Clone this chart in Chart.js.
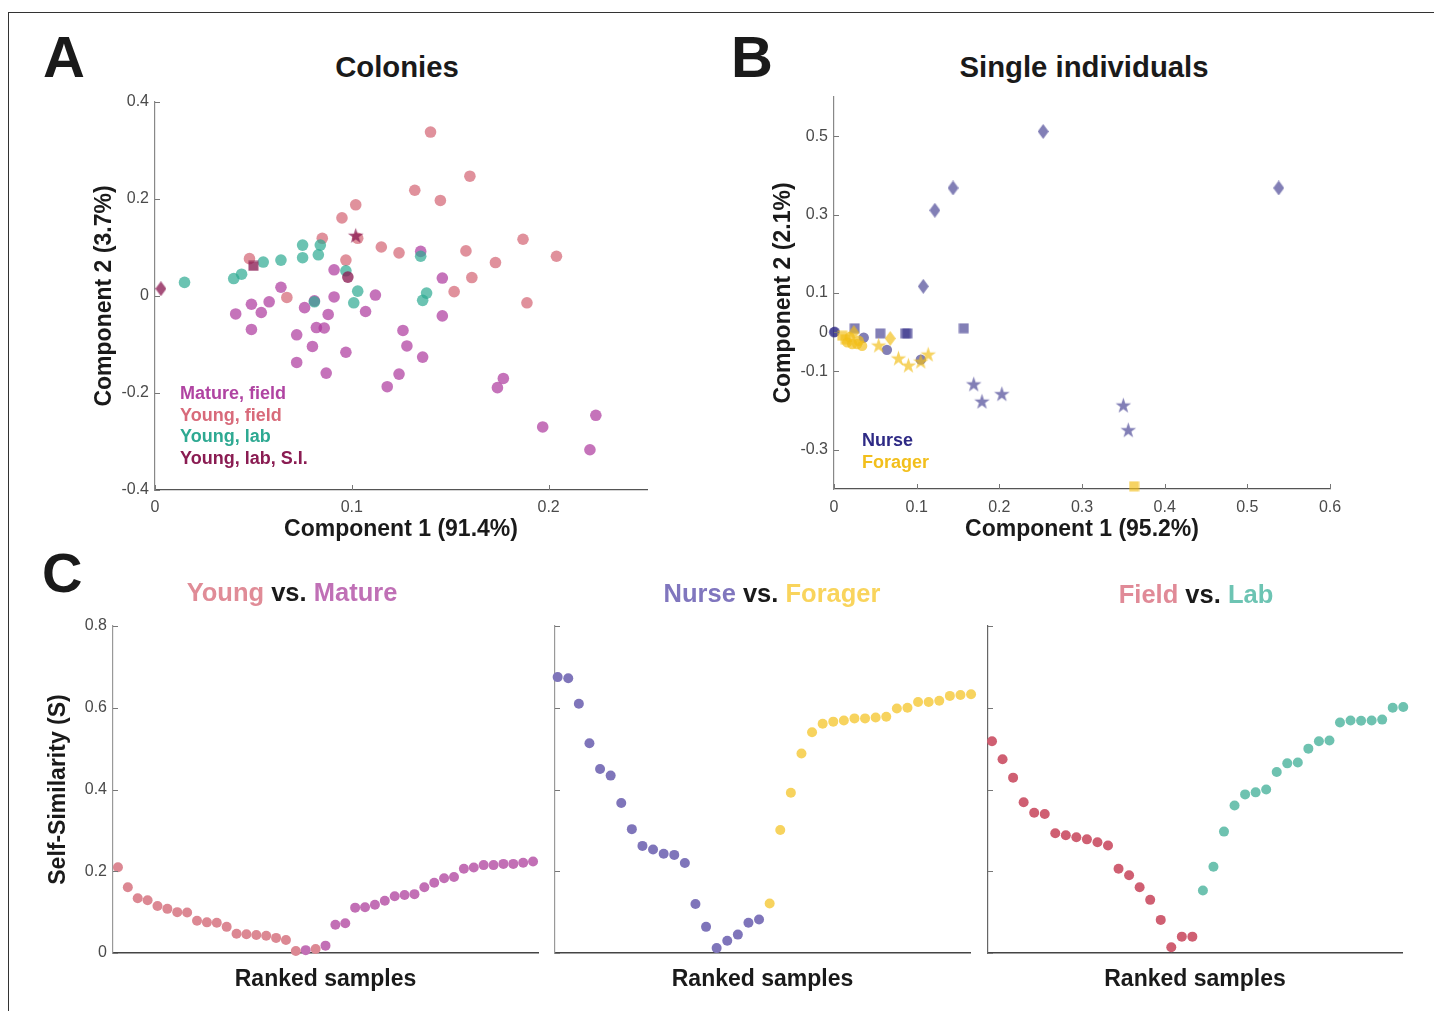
<!DOCTYPE html>
<html>
<head>
<meta charset="utf-8">
<script src="https://cdn.jsdelivr.net/npm/chart.js@4.4.1/dist/chart.umd.min.js"></script>
<style>
  body { margin: 0; background: #fff; font-family: "Liberation Sans", Arial, Helvetica, sans-serif; }
  #fig { position: relative; width: 1434px; height: 1011px; overflow: hidden; background: #fff; }
  #fig canvas { position: absolute; }
  .frame { position: absolute; left: 8px; top: 12px; width: 1440px; height: 1010px; border-top: 1px solid #333; border-left: 1px solid #333; }
  .txt { position: absolute; font-weight: bold; line-height: 1; white-space: nowrap; color: #1a1a1a; }
  .ctr { transform: translateX(-50%); }
  .panel { font-size: 58px; }
  .ttl { font-size: 29.3px; }
  .sub { font-size: 25.5px; }
  .leg { font-size: 18px; line-height: 21.7px; }
</style>
</head>
<body>
<div id="fig">
  <div class="frame"></div>
  <canvas id="chartA" width="580" height="460" style="left:80px;top:90px"></canvas>
  <canvas id="chartB" width="600" height="465" style="left:760px;top:85px"></canvas>
  <canvas id="chartC1" width="510" height="405" style="left:40px;top:600px"></canvas>
  <canvas id="chartC2" width="440" height="405" style="left:545px;top:600px"></canvas>
  <canvas id="chartC3" width="440" height="405" style="left:978px;top:600px"></canvas>

  <div class="txt panel" style="left:43px;top:28px">A</div>
  <div class="txt panel" style="left:731px;top:28px">B</div>
  <div class="txt panel" style="left:42px;top:545px;font-size:56px">C</div>

  <div class="txt ttl ctr" style="left:397px;top:52px">Colonies</div>
  <div class="txt ttl ctr" style="left:1084px;top:52px">Single individuals</div>

  <div class="txt sub ctr" style="left:292px;top:580px"><span style="color:#e08c97">Young</span> vs. <span style="color:#c070b6">Mature</span></div>
  <div class="txt sub ctr" style="left:772px;top:581px"><span style="color:#8076be">Nurse</span> vs. <span style="color:#f9d45c">Forager</span></div>
  <div class="txt sub ctr" style="left:1196px;top:582px"><span style="color:#e08a97">Field</span> vs. <span style="color:#6dc4b3">Lab</span></div>

  <div class="txt leg" style="left:180px;top:383px">
    <div style="color:#b044a2">Mature, field</div>
    <div style="color:#d86a7a">Young, field</div>
    <div style="color:#2ea992">Young, lab</div>
    <div style="color:#8a1c52">Young, lab, S.I.</div>
  </div>
  <div class="txt leg" style="left:862px;top:430px">
    <div style="color:#2e2a85">Nurse</div>
    <div style="color:#f2bf1c">Forager</div>
  </div>
</div>

<script>
// ---- A: colonies PCA ----
const colonyXTicks = [0, 0.1, 0.2];
const colonyYTicks = [-0.4, -0.2, 0, 0.2, 0.4];

const matureField = [
    [0.135, 0.092], [0.091, 0.054], [0.146, 0.037], [0.064, 0.018], [0.112, 0.002],
    [0.091, -0.002], [0.058, -0.012], [0.049, -0.017], [0.076, -0.024], [0.081, -0.010],
    [0.107, -0.032], [0.041, -0.037], [0.054, -0.034], [0.088, -0.038], [0.146, -0.041],
    [0.049, -0.069], [0.082, -0.065], [0.086, -0.066], [0.126, -0.071], [0.072, -0.080],
    [0.080, -0.104], [0.128, -0.103], [0.097, -0.116], [0.072, -0.137], [0.136, -0.126],
    [0.087, -0.159], [0.124, -0.161], [0.118, -0.187], [0.177, -0.170], [0.174, -0.189],
    [0.224, -0.246], [0.197, -0.270], [0.221, -0.317]
];
const youngField = [
    [0.140, 0.338], [0.160, 0.247], [0.132, 0.218], [0.145, 0.197], [0.102, 0.188],
    [0.095, 0.161], [0.085, 0.119], [0.103, 0.119], [0.115, 0.101], [0.124, 0.089],
    [0.158, 0.093], [0.187, 0.117], [0.204, 0.082], [0.173, 0.069], [0.097, 0.074],
    [0.048, 0.077], [0.161, 0.038], [0.152, 0.009], [0.067, -0.003], [0.189, -0.014]
];
const youngLab = [
    [0.015, 0.028], [0.040, 0.036], [0.044, 0.045], [0.055, 0.070], [0.064, 0.074],
    [0.075, 0.105], [0.075, 0.079], [0.084, 0.105], [0.083, 0.085], [0.097, 0.052],
    [0.103, 0.010], [0.101, -0.014], [0.081, -0.012], [0.135, 0.082], [0.138, 0.006],
    [0.136, -0.009]
];
const labSIDiamond = [[0.003, 0.015]];
const labSISquare = [[0.050, 0.062]];
const labSIStar = [[0.102, 0.125]];
const labSICircle = [[0.098, 0.039]];

// ---- B: single individuals PCA ----
const singleXTicks = [0, 0.1, 0.2, 0.3, 0.4, 0.5, 0.6];
const singleYTicks = [-0.3, -0.1, 0, 0.1, 0.3, 0.5];

const nurseCircles = [[0, 0], [0.001, 0.001], [0.036, -0.014], [0.064, -0.045], [0.105, -0.070]];
const nurseSquares = [[0.025, 0.010], [0.056, -0.003], [0.086, -0.003], [0.089, -0.003], [0.157, 0.010]];
const nurseDiamonds = [[0.108, 0.117], [0.122, 0.311], [0.144, 0.368], [0.253, 0.512], [0.538, 0.368]];
const nurseStars = [[0.169, -0.132], [0.179, -0.176], [0.203, -0.157], [0.350, -0.186], [0.356, -0.249]];
const foragerCircles = [[0.016, -0.026], [0.019, -0.013], [0.030, -0.022], [0.034, -0.035], [0.028, -0.030], [0.022, -0.030]];
const foragerSquares = [[0.010, -0.009], [0.014, -0.018], [0.363, -0.393]];
const foragerDiamonds = [[0.024, -0.001], [0.068, -0.016]];
const foragerStars = [[0.054, -0.033], [0.078, -0.066], [0.090, -0.084], [0.105, -0.074], [0.114, -0.056]];

// ---- C: ranked self-similarity ----
const simYTicks = [0, 0.2, 0.4, 0.6, 0.8];

const youngMatureS = [0.210, 0.161, 0.134, 0.129, 0.115, 0.108, 0.100, 0.099, 0.079, 0.075,
    0.074, 0.064, 0.047, 0.046, 0.044, 0.042, 0.037, 0.032, 0.005, 0.007,
    0.010, 0.018, 0.069, 0.073, 0.111, 0.112, 0.118, 0.128, 0.139, 0.142,
    0.144, 0.161, 0.172, 0.183, 0.186, 0.206, 0.209, 0.215, 0.215, 0.218,
    0.218, 0.221, 0.224];
const youngMatureGroup = ['Y', 'Y', 'Y', 'Y', 'Y', 'Y', 'Y', 'Y', 'Y', 'Y',
    'Y', 'Y', 'Y', 'Y', 'Y', 'Y', 'Y', 'Y', 'Y', 'M',
    'Y', 'M', 'M', 'M', 'M', 'M', 'M', 'M', 'M', 'M',
    'M', 'M', 'M', 'M', 'M', 'M', 'M', 'M', 'M', 'M',
    'M', 'M', 'M'];

const nurseForagerS = [0.675, 0.672, 0.610, 0.513, 0.450, 0.434, 0.367, 0.303, 0.262, 0.253,
    0.243, 0.240, 0.220, 0.120, 0.064, 0.012, 0.030, 0.045, 0.074, 0.082,
    0.121, 0.301, 0.392, 0.488, 0.540, 0.561, 0.566, 0.569, 0.574, 0.574,
    0.576, 0.578, 0.598, 0.600, 0.614, 0.614, 0.617, 0.629, 0.631, 0.633];
const nurseForagerGroup = ['N', 'N', 'N', 'N', 'N', 'N', 'N', 'N', 'N', 'N',
    'N', 'N', 'N', 'N', 'N', 'N', 'N', 'N', 'N', 'N',
    'F', 'F', 'F', 'F', 'F', 'F', 'F', 'F', 'F', 'F',
    'F', 'F', 'F', 'F', 'F', 'F', 'F', 'F', 'F', 'F'];

const fieldLabS = [0.518, 0.474, 0.429, 0.369, 0.343, 0.340, 0.293, 0.288, 0.283, 0.278,
    0.271, 0.263, 0.206, 0.190, 0.161, 0.130, 0.081, 0.014, 0.040, 0.040,
    0.153, 0.211, 0.297, 0.361, 0.388, 0.393, 0.400, 0.443, 0.464, 0.466,
    0.500, 0.518, 0.520, 0.564, 0.569, 0.568, 0.569, 0.571, 0.600, 0.602];
const fieldLabGroup = ['F', 'F', 'F', 'F', 'F', 'F', 'F', 'F', 'F', 'F',
    'F', 'F', 'F', 'F', 'F', 'F', 'F', 'F', 'F', 'F',
    'L', 'L', 'L', 'L', 'L', 'L', 'L', 'L', 'L', 'L',
    'L', 'L', 'L', 'L', 'L', 'L', 'L', 'L', 'L', 'L'];

Chart.defaults.font.family = '"Liberation Sans", Arial, Helvetica, sans-serif';
Chart.defaults.color = '#4a4a4a';

// small inward tick marks, matlab style
const inwardTicks = {
    id: 'inwardTicks',
    afterDatasetsDraw: function (chart, args, opts) {
        const ctx = chart.ctx;
        ctx.save();
        ctx.strokeStyle = '#777';
        ctx.lineWidth = 1;
        Object.values(chart.scales).forEach(function (scale) {
            const len = opts[scale.id] || 0;
            if (!len) return;
            scale.ticks.forEach(function (t) {
                const p = Math.round(scale.getPixelForValue(t.value)) + 0.5;
                ctx.beginPath();
                if (scale.isHorizontal()) {
                    ctx.moveTo(p, scale.top);
                    ctx.lineTo(p, scale.top - len);
                } else {
                    ctx.moveTo(scale.right, p);
                    ctx.lineTo(scale.right + len, p);
                }
                ctx.stroke();
            });
        });
        ctx.restore();
    }
};

function marker(shape, color) {
    const c = document.createElement('canvas');
    let w = 11, h = 11;
    if (shape === 'diamond') { w = 11; h = 15; }
    if (shape === 'star') { w = 17; h = 17; }
    c.width = w;
    c.height = h;
    const g = c.getContext('2d');
    g.fillStyle = color;
    g.beginPath();
    if (shape === 'diamond') {
        g.moveTo(w / 2, 0); g.lineTo(w, h / 2); g.lineTo(w / 2, h); g.lineTo(0, h / 2);
    } else if (shape === 'star') {
        for (let i = 0; i < 10; i++) {
            const r = i % 2 ? 3.2 : 8.2;
            const a = -Math.PI / 2 + i * Math.PI / 5;
            g.lineTo(w / 2 + r * Math.cos(a), h / 2 + 0.8 + r * Math.sin(a));
        }
    } else {
        g.rect(0.5, 0.5, w - 1, h - 1);
    }
    g.closePath();
    g.fill();
    return c;
}

function pts(list) {
    return list.map(function (p) { return { x: p[0], y: p[1] }; });
}

function ranked(values, groups, key) {
    const out = [];
    values.forEach(function (v, i) {
        if (groups[i] === key) out.push({ x: i + 1, y: v });
    });
    return out;
}

function ds(label, data, style, color, radius) {
    return {
        label: label,
        data: data,
        pointStyle: style,
        pointRadius: radius || 5.5,
        pointBackgroundColor: color,
        backgroundColor: color,
        borderWidth: 0,
        pointBorderWidth: 0,
        clip: false
    };
}

function linAxis(o) {
    return {
        type: 'linear',
        min: o.min,
        max: o.max,
        afterBuildTicks: function (s) {
            if (o.ticks) s.ticks = o.ticks.map(function (v) { return { value: v }; });
        },
        afterFit: function (s) {
            if (o.horiz) s.height = o.size; else s.width = o.size;
            // keep chart area exactly where layout padding puts it
            s.paddingTop = 0;
            s.paddingBottom = 0;
            s.paddingLeft = 0;
            s.paddingRight = 0;
        },
        grid: { display: true, drawOnChartArea: false, drawTicks: false },
        border: { display: true, color: o.borderColor || '#666', width: o.borderWidth || 1.2 },
        ticks: {
            display: o.labels !== false,
            padding: o.pad || 6,
            color: '#4a4a4a',
            font: { size: 16 },
            maxRotation: 0,
            autoSkip: false
        },
        title: {
            display: !!o.title,
            text: o.title || '',
            color: '#1a1a1a',
            font: { size: 23, weight: 'bold' },
            padding: o.titlePad || 0
        }
    };
}

function makeChart(id, datasets, xAxis, yAxis, pad, tickLen) {
    return new Chart(document.getElementById(id), {
        type: 'scatter',
        data: { datasets: datasets },
        options: {
            responsive: false,
            animation: false,
            events: [],
            layout: { padding: pad },
            plugins: {
                legend: { display: false },
                tooltip: { enabled: false },
                inwardTicks: tickLen
            },
            scales: { x: xAxis, y: yAxis }
        },
        plugins: [inwardTicks]
    });
}

// A
const cMature = 'rgba(172, 56, 156, 0.70)';
const cYoungF = 'rgba(212, 102, 118, 0.72)';
const cYoungL = 'rgba(44, 170, 146, 0.70)';
const cSI = 'rgba(140, 30, 84, 0.78)';
makeChart('chartA', [
    ds('Young, lab, S.I.', pts(labSIDiamond), marker('diamond', cSI), cSI),
    ds('Young, lab, S.I.', pts(labSISquare), marker('square', cSI), cSI),
    ds('Young, lab, S.I.', pts(labSIStar), marker('star', cSI), cSI),
    ds('Young, lab, S.I.', pts(labSICircle), 'circle', cSI, 5.8),
    ds('Young, lab', pts(youngLab), 'circle', cYoungL, 5.8),
    ds('Mature, field', pts(matureField), 'circle', cMature, 5.8),
    ds('Young, field', pts(youngField), 'circle', cYoungF, 5.8)
], linAxis({ min: 0, max: 0.25, ticks: colonyXTicks, horiz: true, size: 60, pad: 8,
             title: 'Component 1 (91.4%)', titlePad: { top: 0, bottom: 7 }, borderColor: '#555' }),
   linAxis({ min: -0.4, max: 0.4, ticks: colonyYTicks, size: 75, pad: 6,
             title: 'Component 2 (3.7%)', titlePad: { top: 11, bottom: 0 }, borderColor: '#888' }),
   { top: 12, right: 13, left: 0, bottom: 0 }, { x: 5, y: 5 });

// B
const cNurse = 'rgba(46, 42, 133, 0.6)';
const cForager = 'rgba(242, 190, 24, 0.68)';
makeChart('chartB', [
    ds('Forager', pts(foragerStars), marker('star', cForager), cForager),
    ds('Forager', pts(foragerDiamonds), marker('diamond', cForager), cForager),
    ds('Forager', pts(foragerSquares), marker('square', cForager), cForager),
    ds('Forager', pts(foragerCircles), 'circle', cForager, 5.2),
    ds('Nurse', pts(nurseStars), marker('star', cNurse), cNurse),
    ds('Nurse', pts(nurseDiamonds), marker('diamond', cNurse), cNurse),
    ds('Nurse', pts(nurseSquares), marker('square', cNurse), cNurse),
    ds('Nurse', pts(nurseCircles), 'circle', cNurse, 5.2)
], linAxis({ min: 0, max: 0.6, ticks: singleXTicks, horiz: true, size: 61, pad: 9,
             title: 'Component 1 (95.2%)', titlePad: { top: 0, bottom: 7 }, borderColor: '#555' }),
   linAxis({ min: -0.4, max: 0.6, ticks: singleYTicks, size: 74, pad: 6,
             title: 'Component 2 (2.1%)', titlePad: { top: 10, bottom: 0 }, borderColor: '#888' }),
   { top: 12, right: 30, left: 0, bottom: 0 }, { x: 5, y: 5 });

// C
makeChart('chartC1', [
    ds('Young', ranked(youngMatureS, youngMatureGroup, 'Y'), 'circle', '#dc8893', 5),
    ds('Mature', ranked(youngMatureS, youngMatureGroup, 'M'), 'circle', '#c26fb5', 5)
], linAxis({ min: 0.5, max: 43.5, ticks: [], horiz: true, size: 52, labels: false,
             title: 'Ranked samples', titlePad: { top: 0, bottom: 12 }, borderColor: '#444', borderWidth: 1.5 }),
   linAxis({ min: 0, max: 0.8, ticks: simYTicks, size: 73, pad: 6,
             title: 'Self-Similarity (S)', titlePad: { top: 5, bottom: 0 }, borderColor: '#999' }),
   { top: 26, right: 12, left: 0, bottom: 0 }, { y: 5 });

makeChart('chartC2', [
    ds('Nurse', ranked(nurseForagerS, nurseForagerGroup, 'N'), 'circle', '#7f75ba', 5),
    ds('Forager', ranked(nurseForagerS, nurseForagerGroup, 'F'), 'circle', '#f7d35e', 5)
], linAxis({ min: 0.75, max: 39.9, ticks: [], horiz: true, size: 52, labels: false,
             title: 'Ranked samples', titlePad: { top: 0, bottom: 12 }, borderColor: '#444', borderWidth: 1.5 }),
   linAxis({ min: 0, max: 0.8, ticks: simYTicks, size: 10, labels: false, borderColor: '#999' }),
   { top: 26, right: 15, left: 0, bottom: 0 }, { y: 5 });

makeChart('chartC3', [
    ds('Field', ranked(fieldLabS, fieldLabGroup, 'F'), 'circle', '#cf5f72', 5),
    ds('Lab', ranked(fieldLabS, fieldLabGroup, 'L'), 'circle', '#6ec2b0', 5)
], linAxis({ min: 0.62, max: 39.88, ticks: [], horiz: true, size: 52, labels: false,
             title: 'Ranked samples', titlePad: { top: 0, bottom: 12 }, borderColor: '#444', borderWidth: 1.5 }),
   linAxis({ min: 0, max: 0.8, ticks: simYTicks, size: 10, labels: false, borderColor: '#666' }),
   { top: 26, right: 16, left: 0, bottom: 0 }, { y: 5 });
</script>
</body>
</html>
